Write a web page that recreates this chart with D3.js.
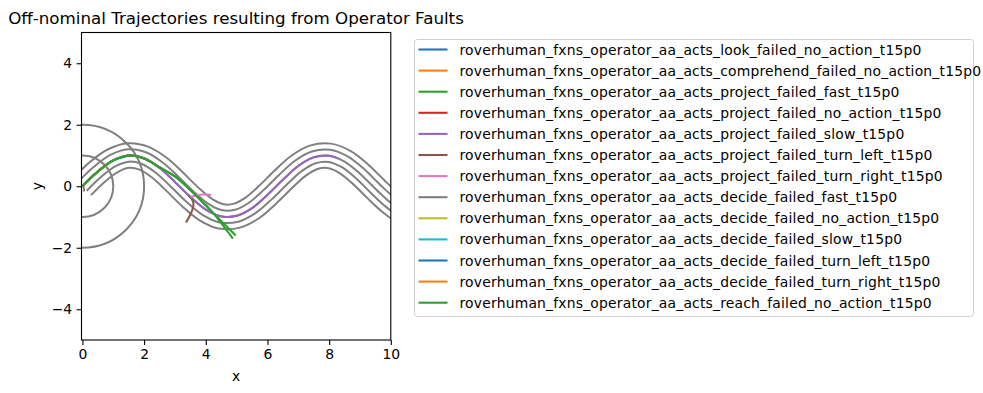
<!DOCTYPE html>
<html>
<head>
<meta charset="utf-8">
<script src="https://cdn.jsdelivr.net/npm/d3@7"></script>
<style>
  body { margin: 0; background: #fff; }
  text { font-family: "DejaVu Sans", sans-serif; fill: #000; }
</style>
</head>
<body>
<svg id="chart" width="983" height="393"></svg>
<script>
// road centre line (x, y)
const roadX = [0, 0.5, 1, 1.5, 2, 2.5, 3, 3.5, 4, 4.5, 5, 5.5, 6, 6.5, 7, 7.5, 8, 8.5, 9, 9.5, 10, 10.5, 11];
const roadY = [0, 0.48, 0.84, 1.0, 0.91, 0.6, 0.14, -0.35, -0.76, -0.98, -0.96, -0.71, -0.28, 0.21, 0.66, 0.94, 0.99, 0.8, 0.41, -0.08, -0.54, -0.88, -1.0];
const laneOffsets = [-0.4, -0.2, 0, 0.2, 0.4];
const circleRadii = [1, 2];

const labels = [
  "roverhuman_fxns_operator_aa_acts_look_failed_no_action_t15p0",
  "roverhuman_fxns_operator_aa_acts_comprehend_failed_no_action_t15p0",
  "roverhuman_fxns_operator_aa_acts_project_failed_fast_t15p0",
  "roverhuman_fxns_operator_aa_acts_project_failed_no_action_t15p0",
  "roverhuman_fxns_operator_aa_acts_project_failed_slow_t15p0",
  "roverhuman_fxns_operator_aa_acts_project_failed_turn_left_t15p0",
  "roverhuman_fxns_operator_aa_acts_project_failed_turn_right_t15p0",
  "roverhuman_fxns_operator_aa_acts_decide_failed_fast_t15p0",
  "roverhuman_fxns_operator_aa_acts_decide_failed_no_action_t15p0",
  "roverhuman_fxns_operator_aa_acts_decide_failed_slow_t15p0",
  "roverhuman_fxns_operator_aa_acts_decide_failed_turn_left_t15p0",
  "roverhuman_fxns_operator_aa_acts_decide_failed_turn_right_t15p0",
  "roverhuman_fxns_operator_aa_acts_reach_failed_no_action_t15p0"
];

// trajectories, one [x, y] list per fault
const lookNoAction = [[0, 0], [0.5, 0.48], [1, 0.84], [1.5, 1.0]];
const comprehendNoAction = [[0, 0], [0.5, 0.48], [1, 0.84], [1.5, 1.0], [2, 0.91]];
const projectFast = [[0, 0], [0.5, 0.48], [1, 0.84], [1.6, 1.0], [2, 0.9], [2.5, 0.62], [3, 0.32], [3.5, -0.12], [4, -0.62], [4.25, -0.88], [4.97, -1.6]];
const projectNoAction = [[0, 0], [0.5, 0.48], [1, 0.84], [1.5, 1.0], [2, 0.91], [2.5, 0.6]];
const projectSlow = [[0, 0], [0.5, 0.48], [1, 0.84], [1.5, 1.0], [2, 0.91], [2.5, 0.6], [3, 0.14], [3.5, -0.35], [4, -0.76], [4.5, -0.98], [5, -0.96], [5.5, -0.71], [6, -0.28], [6.5, 0.21], [7, 0.66], [7.5, 0.94], [8, 0.99], [8.3, 0.9]];
const projectTurnLeft = [[3.45, -0.3], [3.55, -0.42], [3.6, -0.55], [3.57, -0.75], [3.5, -0.92], [3.36, -1.18]];
const projectTurnRight = [[3.5, -0.35], [3.65, -0.31], [3.9, -0.27], [4.17, -0.28]];
const decideFast = [[0.03, 0.0], [0.05, -0.09], [0.04, -0.17]];
const decideNoAction = [[0, 0], [0.5, 0.48], [1, 0.84]];
const decideSlow = [[0, 0], [0.5, 0.48], [1, 0.84], [1.3, 0.96]];
const decideTurnLeft = [[0, 0], [0.5, 0.48]];
const decideTurnRight = [[0, 0], [0.5, 0.48], [0.8, 0.71]];
const reachNoAction = [[0, 0], [0.5, 0.48], [1, 0.84], [1.6, 1.0], [2, 0.9], [2.5, 0.62], [3, 0.32], [3.5, -0.12], [4, -0.62], [4.25, -0.88], [4.88, -1.7]];

const trajectories = [lookNoAction, comprehendNoAction, projectFast, projectNoAction, projectSlow,
  projectTurnLeft, projectTurnRight, decideFast, decideNoAction, decideSlow, decideTurnLeft,
  decideTurnRight, reachNoAction];

const xTicks = [0, 2, 4, 6, 8, 10];
const yTicks = [-4, -2, 0, 2, 4];

const colors = ["#1f77b4", "#ff7f0e", "#2ca02c", "#d62728", "#9467bd", "#8c564b", "#e377c2",
  "#7f7f7f", "#bcbd22", "#17becf", "#1f77b4", "#ff7f0e", "#2ca02c"];

const svg = d3.select("#chart");
const x = d3.scaleLinear().domain([-0.03, 10]).range([81.5, 390.8]);
const y = d3.scaleLinear().domain([-5, 5]).range([340, 32.5]);

svg.append("clipPath").attr("id", "plot-clip")
  .append("rect")
  .attr("x", x.range()[0]).attr("y", y.range()[1])
  .attr("width", x.range()[1] - x.range()[0])
  .attr("height", y.range()[0] - y.range()[1]);

const plot = svg.append("g").attr("clip-path", "url(#plot-clip)");
const line = d3.line().x(d => x(d[0])).y(d => y(d[1])).curve(d3.curveCatmullRom);

// map: circles and road lanes
plot.selectAll(".ring")
  .data(circleRadii)
  .enter()
  .append("ellipse")
  .attr("class", "ring")
  .attr("cx", x(0)).attr("cy", y(0))
  .attr("rx", r => x(r) - x(0))
  .attr("ry", r => y(0) - y(r))
  .attr("fill", "none")
  .attr("stroke", "#808080")
  .attr("stroke-width", 2);

const centre = roadX.map((v, i) => [v, roadY[i]]);
const laneLine = off => centre.map((p, i) => {
  const a = centre[Math.max(i - 1, 0)], b = centre[Math.min(i + 1, centre.length - 1)];
  const dx = b[0] - a[0], dy = b[1] - a[1], len = Math.hypot(dx, dy);
  return [p[0] - off * dy / len, p[1] + off * dx / len];
});

plot.selectAll(".lane")
  .data(laneOffsets)
  .enter()
  .append("path")
  .attr("class", "lane")
  .attr("d", off => line(laneLine(off)))
  .attr("fill", "none")
  .attr("stroke", "#808080")
  .attr("stroke-width", 2);

plot.selectAll(".traj")
  .data(trajectories)
  .enter()
  .append("path")
  .attr("class", "traj")
  .attr("d", d => line(d))
  .attr("fill", "none")
  .attr("stroke", (d, i) => colors[i])
  .attr("stroke-width", 2.08);

// axes
svg.append("rect")
  .attr("x", x.range()[0]).attr("y", y.range()[1])
  .attr("width", x.range()[1] - x.range()[0])
  .attr("height", y.range()[0] - y.range()[1])
  .attr("fill", "none").attr("stroke", "#000").attr("stroke-width", 1.1);

const xAxis = svg.append("g")
  .attr("transform", `translate(0, ${y.range()[0]})`)
  .call(d3.axisBottom(x).tickValues(xTicks).tickSize(4.9).tickPadding(4.5).tickFormat(d3.format("d")));
const yAxis = svg.append("g")
  .attr("transform", `translate(${x.range()[0]}, 0)`)
  .call(d3.axisLeft(y).tickValues(yTicks).tickSize(4.9).tickPadding(4.5).tickFormat(d => d < 0 ? "\u2212" + Math.abs(d) : d));
[xAxis, yAxis].forEach(g => {
  g.select(".domain").remove();
  g.selectAll("line").attr("stroke", "#000").attr("stroke-width", 1.1);
  g.selectAll("text").attr("font-size", 13.9).attr("font-family", "DejaVu Sans");
});

svg.append("text")
  .attr("x", (x.range()[0] + x.range()[1]) / 2).attr("y", 381)
  .attr("text-anchor", "middle").attr("font-size", 13.9).text("x");
svg.append("text")
  .attr("transform", `translate(42, ${y(0)}) rotate(-90)`)
  .attr("text-anchor", "middle").attr("font-size", 13.9).text("y");

svg.append("text")
  .attr("x", 236).attr("y", 24)
  .attr("text-anchor", "middle").attr("font-size", 16.7)
  .text("Off-nominal Trajectories resulting from Operator Faults");

// legend
const legend = svg.append("g");
legend.append("rect")
  .attr("x", 414.5).attr("y", 39.5).attr("width", 559).attr("height", 277)
  .attr("rx", 3).attr("fill", "#fff").attr("stroke", "#d0d0d0");

const rowY = d3.scaleLinear().domain([0, 12]).range([49.5, 302.7]);
const rows = legend.selectAll(".item")
  .data(labels)
  .enter()
  .append("g")
  .attr("class", "item")
  .attr("transform", (d, i) => `translate(0, ${rowY(i)})`);
rows.append("line")
  .attr("x1", 418.5).attr("x2", 447.5)
  .attr("stroke", (d, i) => colors[i]).attr("stroke-width", 2.08);
rows.append("text")
  .attr("x", 459.5).attr("y", 5)
  .attr("font-size", 13.9)
  .attr("letter-spacing", 0.2)
  .text(d => d);
</script>
</body>
</html>
